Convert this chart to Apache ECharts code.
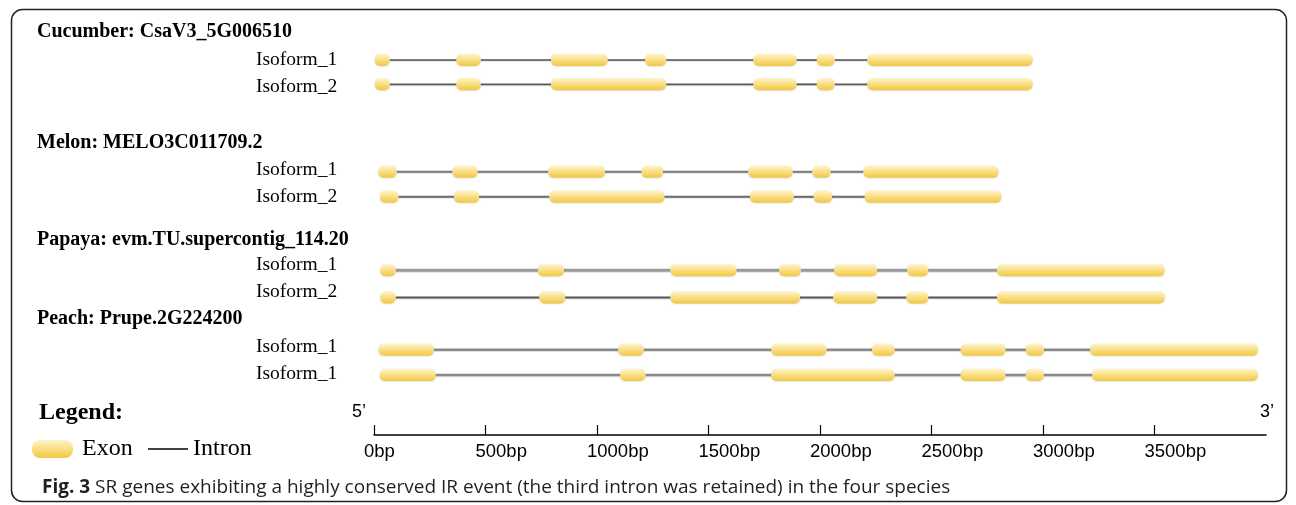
<!DOCTYPE html>
<html>
<head>
<meta charset="utf-8">
<script src="https://cdn.jsdelivr.net/npm/echarts@6/dist/echarts.min.js"></script>
<style>
html,body{margin:0;padding:0;background:#fff;}
#chart{width:1296px;height:505px;}
</style>
</head>
<body>
<div id="chart"></div>
<script>
// ---- data ----
const geneTitles = ['Cucumber: CsaV3_5G006510', 'Melon: MELO3C011709.2', 'Papaya: evm.TU.supercontig_114.20', 'Peach: Prupe.2G224200'];
const isoformLabels = ['Isoform_1', 'Isoform_2', 'Isoform_1', 'Isoform_2', 'Isoform_1', 'Isoform_2', 'Isoform_1', 'Isoform_1'];
// exon [start, end] in bp
const cucumberIso1 = [[4, 70], [370, 478], [794, 1047], [1216, 1310], [1702, 1894], [1986, 2065], [2213, 2953]];
const cucumberIso2 = [[4, 70], [370, 478], [794, 1310], [1702, 1894], [1986, 2065], [2213, 2953]];
const melonIso1 = [[20, 101], [352, 464], [782, 1036], [1200, 1296], [1679, 1877], [1966, 2047], [2195, 2800]];
const melonIso2 = [[27, 109], [359, 471], [787, 1302], [1686, 1882], [1972, 2054], [2201, 2813]];
const papayaIso1 = [[29, 97], [735, 852], [1330, 1625], [1817, 1914], [2064, 2256], [2392, 2485], [2794, 3545]];
const papayaIso2 = [[29, 97], [742, 857], [1330, 1910], [2060, 2256], [2388, 2485], [2794, 3545]];
const peachIso1 = [[21, 268], [1096, 1209], [1782, 2029], [2234, 2334], [2631, 2831], [2923, 3004], [3212, 3963]];
const peachIso2 = [[26, 276], [1104, 1217], [1782, 2334], [2631, 2831], [2923, 3004], [3220, 3963]];
const isoforms = [cucumberIso1, cucumberIso2, melonIso1, melonIso2, papayaIso1, papayaIso2, peachIso1, peachIso2];
const axisMin = 0, axisMax = 4000, axisStep = 500;
const tickValues = [0, 500, 1000, 1500, 2000, 2500, 3000, 3500];
const tickUnit = 'bp';
const captionBold = 'Fig. 3';
const captionText = ' SR genes exhibiting a highly conserved IR event (the third intron was retained) in the four species';

// ---- layout (pixels) ----
const rowY = [60, 84.3, 171.8, 196.8, 270.3, 297.5, 349.8, 375];
const labelY = [60, 87, 170, 197, 265, 292, 347, 374];
const titleY = [32, 143, 240, 319];
const intronColor = ['#505050', '#5a5a5a', '#7a7a7a', '#6a6a6a', '#9a9a9a', '#555', '#8a8a8a', '#8a8a8a'];
const intronWidth = [1.6, 1.8, 2, 2, 3, 2, 2.6, 2.6];

const exonData = [];
const intronData = [];
isoforms.forEach((ex, r) => {
  ex.forEach(e => exonData.push([e[0], e[1], r]));
  for (let i = 0; i < ex.length - 1; i++) intronData.push([ex[i][1], ex[i + 1][0], r]);
});

const exonFill = {
  type: 'linear', x: 0, y: 0, x2: 0, y2: 1,
  colorStops: [
    { offset: 0, color: '#fff4c8' },
    { offset: 0.45, color: '#fae08a' },
    { offset: 1, color: '#f1c842' }
  ]
};

const serif = '"Liberation Serif", "Times New Roman", serif';
const sans = '"Liberation Sans", Arial, sans-serif';
const graphics = [];
graphics.push({ type: 'rect', shape: { x: 11.5, y: 9.5, width: 1275, height: 492, r: 11 }, style: { fill: 'none', stroke: '#222', lineWidth: 1.5 }, silent: true });
geneTitles.forEach((t, i) => graphics.push({ type: 'text', x: 37, y: titleY[i], style: { text: t, font: 'bold 20px ' + serif, fill: '#000', verticalAlign: 'middle' } }));
isoformLabels.forEach((t, i) => graphics.push({ type: 'text', x: 256, y: labelY[i], style: { text: t, font: '19.5px ' + serif, fill: '#000', verticalAlign: 'middle' } }));
// legend
graphics.push({ type: 'text', x: 39, y: 413, style: { text: 'Legend:', font: 'bold 24px ' + serif, fill: '#000', verticalAlign: 'middle' } });
graphics.push({ type: 'rect', shape: { x: 32, y: 440, width: 41, height: 18, r: 8 }, style: { fill: exonFill } });
graphics.push({ type: 'text', x: 82, y: 449, style: { text: 'Exon', font: '24px ' + serif, fill: '#000', verticalAlign: 'middle' } });
graphics.push({ type: 'line', shape: { x1: 148, y1: 449, x2: 188, y2: 449 }, style: { stroke: '#000', lineWidth: 1.3 } });
graphics.push({ type: 'text', x: 193, y: 449, style: { text: 'Intron', font: '24px ' + serif, fill: '#000', verticalAlign: 'middle' } });
// 5' / 3'
graphics.push({ type: 'text', x: 352, y: 412, style: { text: '5\u2019', font: '18px ' + sans, fill: '#000', verticalAlign: 'middle' } });
graphics.push({ type: 'text', x: 1260, y: 412, style: { text: '3\u2019', font: '18px ' + sans, fill: '#000', verticalAlign: 'middle' } });
// caption
graphics.push({
  type: 'text', x: 42, y: 488,
  style: {
    text: '{b|' + captionBold + '}{n|' + captionText + '}',
    verticalAlign: 'middle',
    rich: {
      b: { font: 'bold 19px "Open Sans", sans-serif', fill: '#231f20' },
      n: { font: '19px "Open Sans", sans-serif', fill: '#231f20' }
    }
  }
});

const chart = echarts.init(document.getElementById('chart'), null, { renderer: 'canvas' });
chart.setOption({
  animation: false,
  backgroundColor: '#fff',
  grid: [
    { left: 374, width: 892, top: 0, height: 505 },
    { left: 374, width: 892, top: 434, height: 1 },
    { left: 364, width: 892, top: 434, height: 1 }
  ],
  xAxis: [
    { gridIndex: 0, type: 'value', min: axisMin, max: axisMax, interval: axisStep, show: false },
    {
      gridIndex: 1, type: 'value', min: axisMin, max: axisMax, interval: axisStep, position: 'bottom',
      axisLine: { show: true, lineStyle: { color: '#000', width: 1.5 } },
      axisTick: { show: true, inside: true, length: 10, lineStyle: { color: '#000', width: 1.2 }, customValues: tickValues },
      axisLabel: { show: false }, splitLine: { show: false }
    },
    {
      gridIndex: 2, type: 'value', min: axisMin, max: axisMax, interval: axisStep, position: 'bottom',
      axisLine: { show: false }, axisTick: { show: false }, splitLine: { show: false },
      axisLabel: {
        show: true, align: 'left', margin: 7, customValues: tickValues,
        formatter: v => v + tickUnit,
        fontFamily: sans, fontSize: 18.5, color: '#000'
      }
    }
  ],
  yAxis: [
    { gridIndex: 0, type: 'value', min: 0, max: 505, inverse: true, show: false },
    { gridIndex: 1, type: 'value', show: false },
    { gridIndex: 2, type: 'value', show: false }
  ],
  series: [
    {
      type: 'custom', xAxisIndex: 0, yAxisIndex: 0, data: intronData, clip: false, silent: true,
      renderItem: (params, api) => {
        const r = api.value(2);
        const p1 = api.coord([api.value(0), rowY[r]]);
        const p2 = api.coord([api.value(1), rowY[r]]);
        return {
          type: 'group', children: [
            { type: 'line', shape: { x1: p1[0], y1: p1[1] + 1, x2: p2[0], y2: p2[1] + 1 }, style: { stroke: 'rgba(0,0,0,0.12)', lineWidth: intronWidth[r] } },
            { type: 'line', shape: { x1: p1[0], y1: p1[1], x2: p2[0], y2: p2[1] }, style: { stroke: intronColor[r], lineWidth: intronWidth[r] } }
          ]
        };
      }
    },
    {
      type: 'custom', xAxisIndex: 0, yAxisIndex: 0, data: exonData, clip: false, silent: true,
      renderItem: (params, api) => {
        const r = api.value(2);
        const p1 = api.coord([api.value(0), rowY[r]]);
        const p2 = api.coord([api.value(1), rowY[r]]);
        const h = 12;
        return {
          type: 'rect',
          shape: { x: p1[0], y: p1[1] - h / 2, width: p2[0] - p1[0], height: h, r: 5 },
          style: { fill: exonFill, shadowBlur: 2, shadowColor: 'rgba(0,0,0,0.15)', shadowOffsetY: 0.5 }
        };
      }
    }
  ],
  graphic: graphics
});
</script>
</body>
</html>
